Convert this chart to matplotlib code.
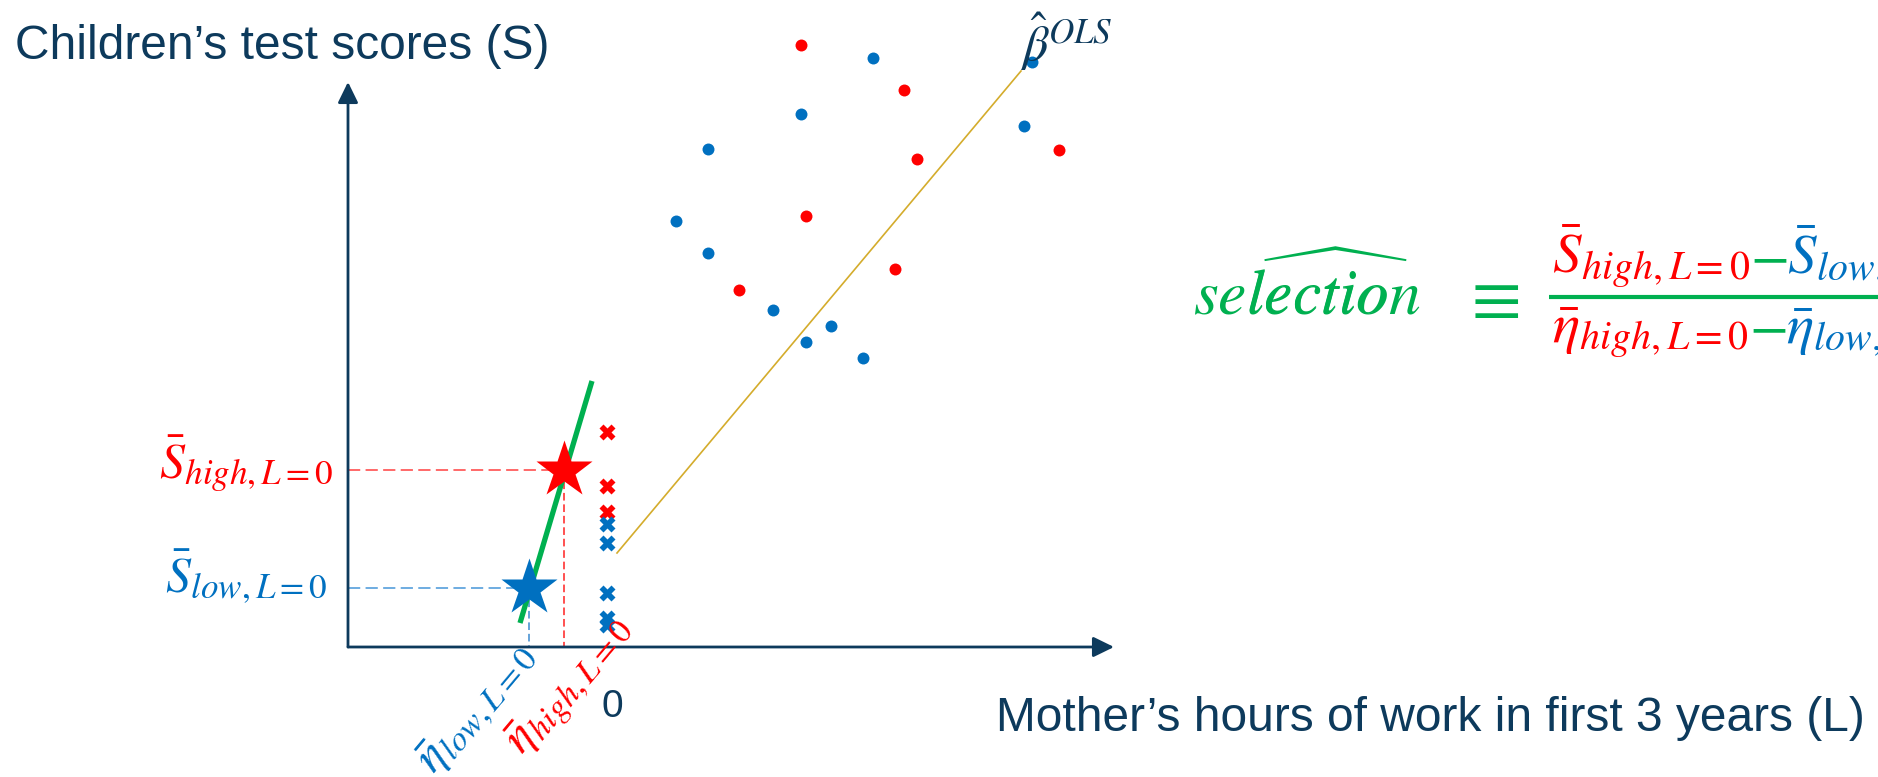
import matplotlib
matplotlib.use("Agg")
import matplotlib.pyplot as plt

plt.rcParams['mathtext.fontset'] = 'stix'
plt.rcParams['font.family'] = ['Liberation Sans', 'DejaVu Sans']

NAVY = '#0d3a5c'
RED = '#ff0000'
BLUE = '#0070c0'
GREEN = '#00b050'
GOLD = '#d4ac2c'

# scatter of working mothers (L, S)
blue_L = [6.9, 10.1, 10.1, 19.4, 16.6, 19.9, 22.4, 25.6, 26.6, 41.7, 42.5]
blue_S = [42.6, 49.8, 39.4, 53.3, 33.7, 30.5, 32.1, 28.9, 58.9, 52.1, 58.5]
red_L = [19.4, 29.7, 31.0, 19.9, 13.2, 28.8, 45.2]
red_S = [60.2, 55.7, 48.8, 43.1, 35.7, 37.8, 49.7]

# non-working mothers (L = 0)
red_x_S = [21.5, 16.1, 13.5]
blue_x_S = [12.3, 10.4, 5.4, 2.9, 2.2]

# group means at L = 0 (eta, S)
eta_high, S_high = -4.3, 17.7
eta_low, S_low = -7.8, 5.9

ols_L = [1.0, 41.4]
ols_S = [9.4, 57.6]
sel_L = [-8.7, -1.5]
sel_S = [2.4, 26.6]

# axes frame
L_axis, S_axis_top, L_axis_end = -25.9, 56.5, 50.7

fig = plt.figure(figsize=(18.78, 7.77), dpi=100)
ax = fig.add_axes([0, 0, 1, 1])
ax.set_xlim(-60.7, 127.1)
ax.set_ylim(-13.0, 64.7)
ax.axis('off')

arrow = dict(arrowstyle='-|>,head_length=0.45,head_width=0.22', lw=2,
             color=NAVY, shrinkA=0, shrinkB=0, mutation_scale=28)
ax.annotate('', xy=(L_axis, S_axis_top), xytext=(L_axis, 0), arrowprops=arrow)
ax.annotate('', xy=(L_axis_end, 0), xytext=(L_axis, 0), arrowprops=arrow)

# dashed guides
ax.plot([L_axis, eta_high], [S_high, S_high], color='#ff4040', lw=1.1, dashes=(8, 3.5))
ax.plot([eta_high, eta_high], [S_high, 0], color='#ff2020', lw=1.1, dashes=(5, 2.5))
ax.plot([L_axis, eta_low], [S_low, S_low], color='#4696d8', lw=1.1, dashes=(8, 3.5))
ax.plot([eta_low, eta_low], [S_low, 0], color='#3b8ad0', lw=1.1, dashes=(5, 2.5))

ax.plot(ols_L, ols_S, color=GOLD, lw=1.2)
ax.plot(sel_L, sel_S, color=GREEN, lw=3.8, solid_capstyle='butt')

ax.plot(blue_L, blue_S, 'o', color=BLUE, ms=8.6, mec='none')
ax.plot(red_L, red_S, 'o', color=RED, ms=8.6, mec='none')
ax.plot([0] * len(red_x_S), red_x_S, 'X', color=RED, ms=11, mec='none')
ax.plot([0] * len(blue_x_S), blue_x_S, 'X', color=BLUE, ms=11, mec='none')

ax.plot([eta_high], [S_high], '*', color=RED, ms=43, mec='none')
ax.plot([eta_low], [S_low], '*', color=BLUE, ms=43, mec='none')

# texts
ax.text(-59.2, 58.8, 'Children\u2019s test scores (S)', color=NAVY, fontsize=34.5,
        ha='left', va='baseline')
ax.text(38.9, -8.4, 'Mother\u2019s hours of work in first 3 years (L)', color=NAVY,
        fontsize=34.5, ha='left', va='baseline')
ax.text(0.5, -6.0, '0', color=NAVY, fontsize=28, ha='center', va='center')
ax.text(41.3, 60.5, r'$\hat{\beta}^{OLS}$', color=NAVY, fontsize=36, ha='left', va='center')

ax.text(-27.4, 16.9, r'$\bar{S}_{high,L=0}$', color=RED, fontsize=36, ha='right', va='baseline')
ax.text(-28.0, 5.4, r'$\bar{S}_{low,L=0}$', color=BLUE, fontsize=36, ha='right', va='baseline')
ax.text(-12.9, -6.2, r'$\bar{\eta}_{low,L=0}$', color=BLUE, fontsize=35, rotation=50,
        ha='center', va='center')
ax.text(-3.7, -3.9, r'$\bar{\eta}_{high,L=0}$', color=RED, fontsize=35, rotation=50,
        ha='center', va='center')

renderer = fig.canvas.get_renderer()
inv = ax.transData.inverted()


def chain(pieces, x, y, size):
    for txt, col in pieces:
        t = ax.text(x, y, txt, color=col, fontsize=size, ha='left', va='baseline')
        bb = t.get_window_extent(renderer)
        x = inv.transform((bb.x1, bb.y0))[0]


# selection formula: whole word, then the hat laid over "lectio" only
sel_x, sel_y, sel_size = 58.6, 33.4, 46
ax.text(sel_x, sel_y, r'$selection$', color=GREEN, fontsize=sel_size, ha='left', va='baseline')
probe = ax.text(sel_x, sel_y, r'$se$', fontsize=sel_size, ha='left', va='baseline', alpha=0)
hat_x = inv.transform((probe.get_window_extent(renderer).x1, 0))[0]
ax.text(hat_x, sel_y, r'$\widehat{lectio}$', color=GREEN, fontsize=sel_size,
        ha='left', va='baseline')

ax.text(88.3, 34.7, r'$\equiv$', color=GREEN, fontsize=52, ha='center', va='center')
ax.plot([94.2, 130], [35.0, 35.0], color=GREEN, lw=3, solid_capstyle='butt')

chain([(r'$\bar{S}_{high,L=0}$', RED), (r'$-$', GREEN), (r'$\bar{S}_{low,L=0}$', BLUE)],
      94.5, 37.4, 41)
chain([(r'$\bar{\eta}_{high,L=0}$', RED), (r'$-$', GREEN), (r'$\bar{\eta}_{low,L=0}$', BLUE)],
      94.5, 30.4, 41)

fig.savefig('out.png', dpi=100)
